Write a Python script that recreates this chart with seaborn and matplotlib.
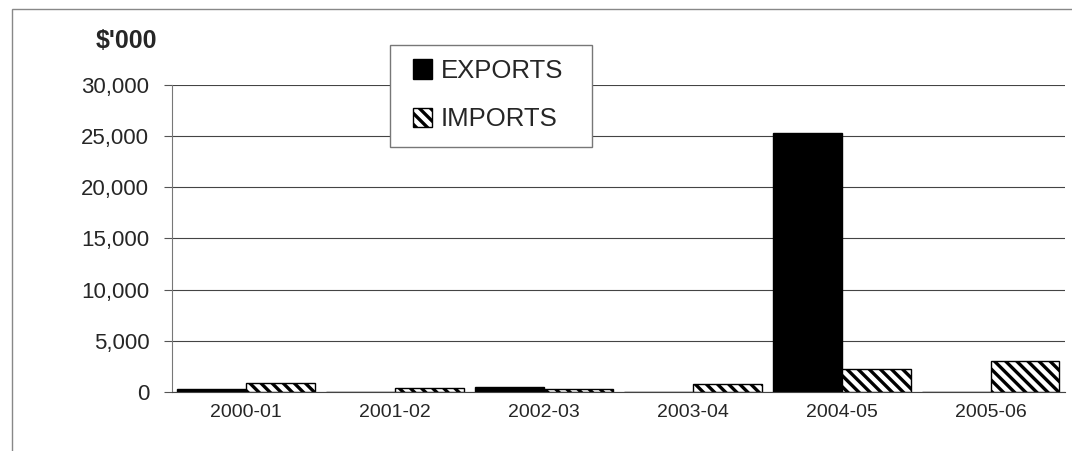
import pandas as pd
import matplotlib.pyplot as plt
import matplotlib.patches as mpatches
import seaborn as sns

# Valori stimati dal grafico (migliaia di dollari)
years = ["2000-01", "2001-02", "2002-03", "2003-04", "2004-05", "2005-06"]
exports = [250, 30, 480, 0, 25300, 0]
imports = [880, 380, 300, 780, 2250, 3000]
series = ["EXPORTS", "IMPORTS"]

df = pd.DataFrame({
    "Year": years * 2,
    "Type": [series[0]] * len(years) + [series[1]] * len(years),
    "Value": exports + imports,
})

sns.set_style("white")
plt.rcParams['font.family'] = ['Liberation Sans', 'DejaVu Sans']
plt.rcParams['hatch.linewidth'] = 2.4

fig = plt.figure(figsize=(10.72, 4.51), dpi=100, facecolor='white')
ax = fig.add_axes([0.160, 0.131, 0.8335, 0.6805])

sns.barplot(
    data=df, x="Year", y="Value", hue="Type", order=years, hue_order=series,
    palette=["black", "white"], width=0.925, gap=0, edgecolor="black",
    linewidth=1, saturation=1, ax=ax, legend=False,
)

# Tratteggio per le importazioni
for bar in ax.containers[1]:
    bar.set_hatch("\\\\\\")
    bar.set_edgecolor("black")

ax.set_ylim(0, 30000)
ax.set_xlim(-0.5, len(years) - 0.5)
ax.set_yticks(range(0, 30001, 5000))
ax.set_yticklabels([f"{v:,}" for v in range(0, 30001, 5000)], fontsize=16)
ax.set_xticks(range(len(years)))
ax.set_xticklabels(years, fontsize=14)
ax.set_xticks([i + 0.5 for i in range(-1, len(years))], minor=True)
ax.tick_params(axis='x', which='major', length=0, pad=9)
ax.tick_params(axis='x', which='minor', length=5, color='#555555', direction='out')
ax.tick_params(axis='y', length=6, color='#555555', direction='out', pad=10, left=True)
ax.set_xlabel("")
ax.set_ylabel("")

ax.yaxis.grid(True, color='#444444', linewidth=0.8)
ax.set_axisbelow(True)
for side in ["top", "right"]:
    ax.spines[side].set_visible(False)
ax.spines["left"].set_color('#777777')
ax.spines["bottom"].set_color('#444444')

fig.text(0.089, 0.91, "$'000", fontsize=18, fontweight='bold', va='center', ha='left')

# Legenda senza cornice, cornice disegnata a parte
handles = [ax.containers[0][0], ax.containers[1][0]]
leg = ax.legend(
    handles, series, loc='upper left', bbox_to_anchor=(0.385, 0.869),
    bbox_transform=fig.transFigure, fontsize=18.5, frameon=False,
    handlelength=0.75, handleheight=0.8, handletextpad=0.35,
    labelspacing=0.95, borderpad=0, borderaxespad=0,
)
leg.set_zorder(6)
ax.add_patch(mpatches.Rectangle(
    (390 / 1072, 1 - 147 / 451), 202 / 1072, 102 / 451, transform=fig.transFigure,
    facecolor='white', edgecolor='#777777', linewidth=1.0, zorder=5, clip_on=False,
))

# Bordo del riquadro del grafico
fig.patches.append(mpatches.Rectangle(
    (0.011, -0.1), 1.2, 1.08, transform=fig.transFigure, fill=False,
    edgecolor='#888888', linewidth=1.0,
))

plt.savefig("out.png", dpi=100, facecolor='white')
